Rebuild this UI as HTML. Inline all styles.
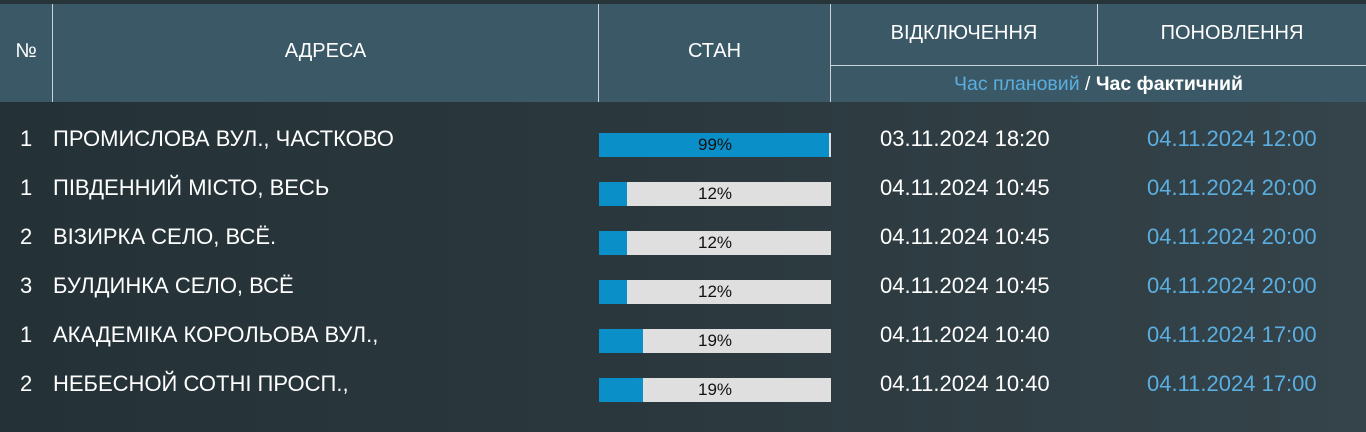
<!DOCTYPE html>
<html><head><meta charset="utf-8"><style>
body{margin:0;width:1366px;height:432px;overflow:hidden;background:linear-gradient(90deg,#243238,#2b393f 50%,#35444a);font-family:"Liberation Sans",sans-serif;position:relative;color:#fff}
.top{position:absolute;left:0;top:0;width:1366px;height:4px;background:#27353b}
.hd{position:absolute;top:4px;left:0;width:1366px;height:98px;background:#3b5866}
.v{position:absolute;width:1px;background:#c9d3d8}
.h{position:absolute;height:1px;background:#c9d3d8}
.t{position:absolute;white-space:nowrap;line-height:24px}
.hc{font-size:20px;text-align:center}
.r{font-size:22px}
.bar{position:absolute;left:599px;width:232px;height:24px;background:#dfdfdf;color:#111;font-size:17px;text-align:center;line-height:24px}
.bar i{position:absolute;left:0;top:0;height:24px;background:#0b8fc8}
.bar span{position:relative}
.b{color:#5aaee0}
</style></head><body>
<div class="top"></div>
<div class="hd"></div>
<div class="v" style="left:52px;top:4px;height:98px"></div>
<div class="v" style="left:598px;top:4px;height:98px"></div>
<div class="v" style="left:830px;top:4px;height:98px"></div>
<div class="v" style="left:1097px;top:4px;height:61px"></div>
<div class="h" style="left:830px;top:65px;width:536px"></div>
<div class="t hc" style="left:0;width:52px;top:39px">№</div>
<div class="t hc" style="left:53px;width:545px;top:39px">АДРЕСА</div>
<div class="t hc" style="left:599px;width:231px;top:39px">СТАН</div>
<div class="t hc" style="left:831px;width:266px;top:21px">ВІДКЛЮЧЕННЯ</div>
<div class="t hc" style="left:1098px;width:268px;top:21px">ПОНОВЛЕННЯ</div>
<div class="t hc" style="left:831px;width:535px;top:72px;font-size:19.5px"><span class="b">Час плановий</span> / <b>Час фактичний</b></div>

<div class="t r" style="left:20px;top:127px">1</div><div class="t r" style="left:53px;top:127px">ПРОМИСЛОВА ВУЛ., ЧАСТКОВО</div>
<div class="bar" style="top:133px"><i style="width:230px"></i><span>99%</span></div>
<div class="t r" style="left:880px;top:127px">03.11.2024 18:20</div><div class="t r b" style="left:1147px;top:127px">04.11.2024 12:00</div>

<div class="t r" style="left:20px;top:176px">1</div><div class="t r" style="left:53px;top:176px">ПІВДЕННИЙ МІСТО, ВЕСЬ</div>
<div class="bar" style="top:182px"><i style="width:28px"></i><span>12%</span></div>
<div class="t r" style="left:880px;top:176px">04.11.2024 10:45</div><div class="t r b" style="left:1147px;top:176px">04.11.2024 20:00</div>

<div class="t r" style="left:20px;top:225px">2</div><div class="t r" style="left:53px;top:225px">ВІЗИРКА СЕЛО, ВСЁ.</div>
<div class="bar" style="top:231px"><i style="width:28px"></i><span>12%</span></div>
<div class="t r" style="left:880px;top:225px">04.11.2024 10:45</div><div class="t r b" style="left:1147px;top:225px">04.11.2024 20:00</div>

<div class="t r" style="left:20px;top:274px">3</div><div class="t r" style="left:53px;top:274px">БУЛДИНКА СЕЛО, ВСЁ</div>
<div class="bar" style="top:280px"><i style="width:28px"></i><span>12%</span></div>
<div class="t r" style="left:880px;top:274px">04.11.2024 10:45</div><div class="t r b" style="left:1147px;top:274px">04.11.2024 20:00</div>

<div class="t r" style="left:20px;top:323px">1</div><div class="t r" style="left:53px;top:323px">АКАДЕМІКА КОРОЛЬОВА ВУЛ.,</div>
<div class="bar" style="top:329px"><i style="width:44px"></i><span>19%</span></div>
<div class="t r" style="left:880px;top:323px">04.11.2024 10:40</div><div class="t r b" style="left:1147px;top:323px">04.11.2024 17:00</div>

<div class="t r" style="left:20px;top:372px">2</div><div class="t r" style="left:53px;top:372px">НЕБЕСНОЙ СОТНІ ПРОСП.,</div>
<div class="bar" style="top:378px"><i style="width:44px"></i><span>19%</span></div>
<div class="t r" style="left:880px;top:372px">04.11.2024 10:40</div><div class="t r b" style="left:1147px;top:372px">04.11.2024 17:00</div>
</body></html>
